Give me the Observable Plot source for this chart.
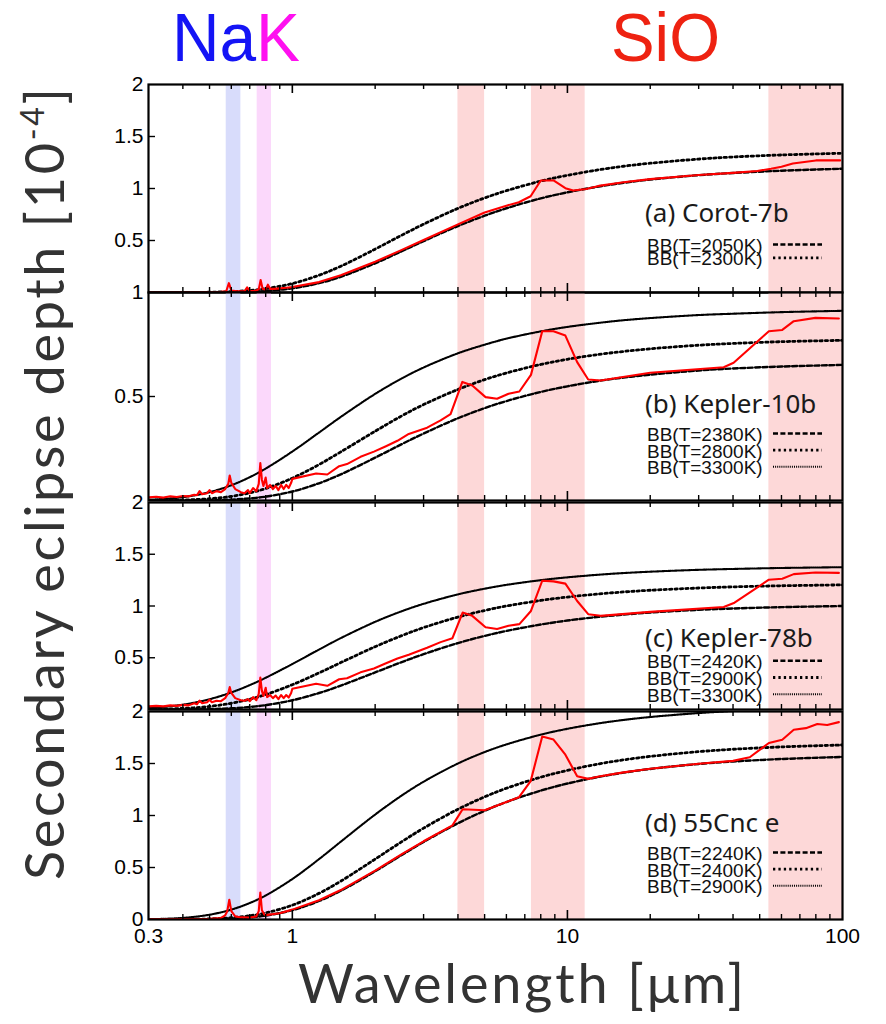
<!DOCTYPE html>
<html><head><meta charset="utf-8">
<script src="https://cdn.jsdelivr.net/npm/d3@7"></script>
<script src="https://cdn.jsdelivr.net/npm/@observablehq/plot@0.6"></script>
<style>
body{margin:0;background:#fff;}
#root{position:relative;width:886px;height:1024px;overflow:hidden;background:#fff;}
</style></head><body><div id="root"></div>
<script>
// ---------- data ----------
const wave = [0.3,0.4,0.5,0.6,0.7,0.8,1,1.25,1.5,2,2.5,3,4,5,6,8,10,13,16,20,30,40,60,100];

// (a) Corot-7b
const a_bb2050 = [0,0,0.0006,0.0024,0.0066,0.0142,0.040,0.0898,0.151,0.281,0.397,0.494,0.639,0.738,0.81,0.905,0.963,1.019,1.055,1.086,1.128,1.149,1.171,1.190];
const a_bb2300 = [0,0.0005,0.0027,0.0086,0.0198,0.0367,0.086,0.166,0.253,0.417,0.551,0.657,0.809,0.909,0.979,1.071,1.127,1.180,1.214,1.243,1.283,1.303,1.3225,1.339];
const a_redW = [0.3,0.4,0.5,0.55,0.575,0.588,0.6,0.63,0.67,0.685,0.7,0.73,0.755,0.767,0.78,0.8,0.815,0.83,0.86,0.9,0.95,1.0,1.25,1.5,2,2.5,3,4,5,6,6.66,7.35,8.0,8.9,9.83,10.5,11.7,13,16,20,30,40,49,55,60,66,80,98];
const a_redV = [0.002,0.003,0.005,0.006,0.012,0.09,0.02,0.012,0.012,0.05,0.015,0.015,0.03,0.12,0.035,0.03,0.075,0.035,0.035,0.04,0.045,0.052,0.1,0.165,0.295,0.41,0.505,0.655,0.77,0.835,0.868,0.926,1.077,1.077,1.003,0.98,0.995,1.025,1.06,1.09,1.13,1.15,1.168,1.19,1.21,1.24,1.27,1.27];

// (b) Kepler-10b
const b_bb2380 = [0,0.0002,0.0014,0.0044,0.0101,0.0186,0.0432,0.0829,0.1257,0.206,0.271,0.322,0.3955,0.444,0.478,0.522,0.549,0.575,0.591,0.605,0.625,0.6346,0.644,0.652];
const b_bb2800 = [0.0003,0.0023,0.0084,0.020,0.0368,0.0578,0.1074,0.1727,0.2337,0.333,0.407,0.461,0.534,0.581,0.613,0.654,0.679,0.7023,0.7166,0.7295,0.7465,0.755,0.7635,0.770];
const b_bb3300 = [0.0035,0.016,0.0399,0.0732,0.112,0.1535,0.2355,0.3267,0.4018,0.5125,0.587,0.6394,0.7077,0.749,0.778,0.813,0.8345,0.854,0.8667,0.877,0.8916,0.898,0.9056,0.912];
const b_redW = [0.3,0.32,0.34,0.36,0.38,0.4,0.42,0.44,0.45,0.46,0.47,0.49,0.5,0.51,0.53,0.55,0.57,0.585,0.592,0.6,0.62,0.65,0.67,0.69,0.7,0.72,0.74,0.755,0.765,0.775,0.785,0.8,0.81,0.83,0.85,0.87,0.89,0.91,0.93,0.95,0.97,0.99,1.0,1.22,1.34,1.48,1.58,1.77,1.98,2.18,2.41,2.65,3.09,3.46,3.76,4.15,4.51,5.04,5.55,6.11,6.69,7.37,8.1,8.9,9.83,10.85,11.9,13.2,20,37,40.2,54,60.4,66.5,79.7,97];
const b_redV = [0.015,0.018,0.014,0.02,0.017,0.022,0.02,0.028,0.025,0.045,0.03,0.035,0.05,0.035,0.045,0.04,0.055,0.08,0.12,0.085,0.055,0.04,0.035,0.05,0.035,0.06,0.045,0.08,0.18,0.1,0.07,0.11,0.06,0.075,0.055,0.07,0.05,0.075,0.055,0.075,0.06,0.085,0.104,0.13,0.125,0.165,0.175,0.21,0.235,0.26,0.287,0.32,0.35,0.385,0.415,0.57,0.553,0.497,0.489,0.513,0.524,0.604,0.814,0.814,0.793,0.665,0.582,0.577,0.614,0.641,0.662,0.814,0.82,0.862,0.878,0.875];

// (c) Kepler-78b
const c_bb2420 = [0.0001,0.0009,0.0042,0.0117,0.0244,0.0421,0.0891,0.1593,0.231,0.3583,0.458,0.5347,0.6416,0.711,0.759,0.821,0.8595,0.895,0.917,0.937,0.963,0.976,0.989,1.000];
const c_bb2900 = [0.0017,0.0103,0.0298,0.0604,0.0996,0.1442,0.2395,0.3537,0.4533,0.6068,0.7141,0.7914,0.8933,0.9567,0.9997,1.0537,1.0866,1.117,1.1357,1.152,1.1737,1.1846,1.1955,1.204];
const c_bb3300 = [0.0129,0.0462,0.0992,0.1646,0.2354,0.3066,0.4394,0.5791,0.6897,0.847,0.9497,1.0208,1.112,1.167,1.204,1.2496,1.277,1.3025,1.3183,1.3315,1.3496,1.358,1.3674,1.375];
const c_redW = [0.3,0.32,0.34,0.36,0.38,0.4,0.42,0.44,0.45,0.46,0.47,0.49,0.5,0.51,0.53,0.55,0.57,0.585,0.592,0.6,0.62,0.65,0.67,0.69,0.7,0.72,0.74,0.755,0.765,0.775,0.785,0.8,0.81,0.83,0.85,0.87,0.89,0.91,0.93,0.95,0.97,0.99,1.0,1.22,1.34,1.48,1.58,1.77,1.98,2.18,2.41,2.65,3.09,3.46,3.82,4.16,4.51,5.04,5.55,6.11,6.69,7.37,8.1,8.9,9.83,10.85,11.9,13.2,20,37,40.5,54,60.4,66.5,79.7,97];
const c_redV = [0.03,0.035,0.03,0.04,0.035,0.045,0.04,0.06,0.05,0.085,0.06,0.07,0.095,0.07,0.085,0.08,0.11,0.16,0.216,0.16,0.11,0.09,0.085,0.1,0.08,0.12,0.09,0.15,0.308,0.18,0.13,0.21,0.12,0.14,0.11,0.135,0.1,0.14,0.11,0.14,0.115,0.16,0.2,0.248,0.229,0.292,0.302,0.359,0.397,0.444,0.492,0.53,0.597,0.651,0.689,0.937,0.905,0.794,0.778,0.81,0.825,0.952,1.244,1.238,1.216,1.048,0.921,0.905,0.943,0.99,1.032,1.254,1.263,1.308,1.324,1.32];

// (d) 55Cnc e
const d_bb2240 = [0,0.0004,0.0025,0.0083,0.0196,0.0371,0.0897,0.1779,0.2759,0.4639,0.6208,0.7458,0.9256,1.0455,1.1295,1.2394,1.3073,1.3716,1.412,1.4477,1.4954,1.519,1.543,1.563];
const d_bb2400 = [0.0001,0.0012,0.0058,0.0169,0.0361,0.0634,0.1377,0.2512,0.3688,0.5804,0.7484,0.8783,1.0603,1.1792,1.2616,1.3686,1.434,1.496,1.5348,1.5684,1.6138,1.6367,1.6595,1.678];
const d_bb2900 = [0.0025,0.0154,0.0458,0.0947,0.1582,0.2311,0.389,0.5804,0.7484,1.0092,1.1926,1.325,1.5001,1.6098,1.6833,1.777,1.8335,1.886,1.9187,1.947,1.985,2.004,2.0226,2.038];
const d_redW = [0.3,0.4,0.5,0.55,0.57,0.58,0.59,0.6,0.62,0.65,0.7,0.74,0.755,0.765,0.775,0.79,0.8,0.9,1.0,1.25,1.5,2,2.5,3,3.82,4.16,5.0,6.0,6.66,7.35,8.1,8.9,9.83,10.85,11.9,13,16,20,30,40,46,54,60.4,66.5,73.6,81,88,97];
const d_redV = [0.003,0.004,0.006,0.015,0.04,0.08,0.19,0.08,0.03,0.02,0.018,0.03,0.08,0.26,0.09,0.05,0.042,0.06,0.095,0.185,0.283,0.47,0.628,0.752,0.905,1.06,1.05,1.13,1.175,1.33,1.76,1.73,1.585,1.378,1.352,1.375,1.415,1.45,1.497,1.525,1.56,1.697,1.729,1.825,1.84,1.88,1.87,1.898];

// absorption bands [µm]
const bandNames = ["Na","K","SiO","SiO","SiO"];
const bandLo = [0.575,0.745,4.0,7.4,54];
const bandHi = [0.65,0.84,5.0,11.6,100];

// ticks and labels
const xMinor = [0.4,0.5,0.6,0.7,0.8,0.9,2,3,4,5,6,7,8,9,20,30,40,50,60,70,80,90];
const xMajor = [1,10];
const xLabels = [0.3,1,10,100];
const panelNames = ["(a) Corot-7b","(b) Kepler-10b","(c) Kepler-78b","(d) 55Cnc e"];
const temps = [["2050K","2300K"],["2380K","2800K","3300K"],["2420K","2900K","3300K"],["2240K","2400K","2900K"]];
const yLabelsA = [2,1.5,1,0.5];
const yLabelsB = [1,0.5];
const yLabelsC = [2,1.5,1,0.5];
const yLabelsD = [2,1.5,1,0.5,0];

// ---------- layout / style ----------
const W = 886, ML = 148, MR = 44, MT = 12;
const FW = W - ML - MR;
const bandColor = {Na: "#d8dcfb", K: "#fbd8fb", SiO: "#fdd8d8"};
const lineStyle = [
  {dash: "5,2.4", w: 2.4},
  {dash: "2.3,3.1", w: 2.8},
  {dash: "1,1.1", w: 2.1}
];
const panels = [
  {bb: [a_bb2050, a_bb2300], rw: a_redW, rv: a_redV, dom: [0,2], ticks: [0.5,1,1.5], labels: yLabelsA, top: 84, h: 208,
   nameY: 222, legY: [252, 265.3]},
  {bb: [b_bb2380, b_bb2800, b_bb3300], rw: b_redW, rv: b_redV, dom: [0,1], ticks: [0.5], labels: yLabelsB, top: 292, h: 208,
   nameY: 413, legY: [441, 457.7, 474.3]},
  {bb: [c_bb2420, c_bb2900, c_bb3300], rw: c_redW, rv: c_redV, dom: [0,2], ticks: [0.5,1,1.5], labels: yLabelsC, top: 502, h: 207,
   nameY: 647, legY: [668.3, 685, 701.7]},
  {bb: [d_bb2240, d_bb2400, d_bb2900], rw: d_redW, rv: d_redV, dom: [0,2], ticks: [0.5,1,1.5], labels: yLabelsD, top: 711, h: 208,
   nameY: 832, legY: [860, 876.7, 893.3]}
];

const root = document.getElementById("root");
const idx = bandNames.map((_, i) => i);

panels.forEach((p, k) => {
  const last = k === panels.length - 1;
  const MB = last ? 52 : 12;
  const marks = [];
  for (const name of ["Na","K","SiO"]) {
    marks.push(Plot.rect(idx.filter(i => bandNames[i] === name),
      {x1: i => bandLo[i], x2: i => bandHi[i], fill: bandColor[name]}));
  }
  p.bb.forEach((vals, j) => {
    marks.push(Plot.line(wave, {x: wave, y: vals, stroke: "#000", strokeWidth: lineStyle[j].w,
      strokeDasharray: lineStyle[j].dash, curve: "catmull-rom", clip: true}));
  });
  marks.push(Plot.line(p.rw, {x: p.rw, y: p.rv, stroke: "#ff0000", strokeWidth: 2.1, clip: true}));
  marks.push(Plot.tickX(xMinor, {insetBottom: p.h - 5, stroke: "#000", strokeWidth: 1.4}));
  marks.push(Plot.tickX(xMinor, {insetTop: p.h - 5, stroke: "#000", strokeWidth: 1.4}));
  marks.push(Plot.tickX(xMajor, {insetBottom: p.h - 9, stroke: "#000", strokeWidth: 1.6}));
  marks.push(Plot.tickX(xMajor, {insetTop: p.h - 9, stroke: "#000", strokeWidth: 1.6}));
  marks.push(Plot.tickY(p.ticks, {insetRight: FW - 7, stroke: "#000", strokeWidth: 1.4}));
  marks.push(Plot.axisY(p.labels, {tickSize: 0, tickPadding: 5, fontSize: 21, label: null,
    tickFormat: d => String(d), fill: "#000"}));
  if (last) marks.push(Plot.axisX(xLabels, {tickSize: 0, tickPadding: 9, fontSize: 21, label: null,
    tickFormat: d => String(d), fill: "#000"}));
  marks.push(Plot.frame({stroke: "#000", strokeWidth: 2.2}));

  const svg = Plot.plot({
    width: W, height: p.h + MT + MB,
    marginLeft: ML, marginRight: MR, marginTop: MT, marginBottom: MB,
    x: last ? {type: "log", domain: [0.3, 100]} : {type: "log", domain: [0.3, 100], axis: null},
    y: {domain: p.dom},
    style: {background: "transparent", overflow: "visible",
      fontFamily: "'Liberation Sans', Arial, sans-serif", fontSize: "21px", color: "#000"},
    marks
  });
  svg.style.position = "absolute";
  svg.style.left = "0px";
  svg.style.top = (p.top - MT) + "px";
  svg.style.maxWidth = "none";
  root.appendChild(svg);
});

// ---------- overlay: titles, legends, axis titles ----------
const ov = d3.create("svg").attr("width", W).attr("height", 1024)
  .style("position", "absolute").style("left", "0px").style("top", "0px")
  .style("overflow", "visible").style("pointer-events", "none");

ov.append("text").attr("x", 172).attr("y", 61)
  .attr("font-family", "'Liberation Sans', Arial, sans-serif").attr("font-size", 68)
  .attr("textLength", 128).attr("lengthAdjust", "spacingAndGlyphs")
  .call(t => {
    t.append("tspan").attr("fill", "#1414f5").text("Na");
    t.append("tspan").attr("fill", "#ff10f0").text("K");
  });
ov.append("text").attr("x", 611).attr("y", 61)
  .attr("font-family", "'Liberation Sans', Arial, sans-serif").attr("font-size", 68)
  .attr("textLength", 109).attr("lengthAdjust", "spacingAndGlyphs")
  .attr("fill", "#ee2211").text("SiO");

panels.forEach((p, k) => {
  ov.append("text").attr("x", 645).attr("y", p.nameY)
    .attr("font-family", "'Noto Sans', 'Open Sans', sans-serif").attr("font-size", 26)
    .attr("fill", "#1a1a1a").text(panelNames[k]);
  temps[k].forEach((t, j) => {
    const y = p.legY[j];
    ov.append("text").attr("x", 647).attr("y", y)
      .attr("font-family", "'Liberation Sans', Arial, sans-serif").attr("font-size", 19)
      .attr("fill", "#111").text(`BB(T=${t})`);
    ov.append("line").attr("x1", 773).attr("x2", 822).attr("y1", y - 7.5).attr("y2", y - 7.5)
      .attr("stroke", "#000").attr("stroke-width", lineStyle[j].w)
      .attr("stroke-dasharray", lineStyle[j].dash);
  });
});

const yt = ov.append("text").attr("transform", "translate(64,484) rotate(-90)")
  .attr("text-anchor", "middle").attr("font-family", "Lato, 'Open Sans', sans-serif")
  .attr("font-weight", 400).attr("font-size", 54).attr("fill", "#333")
  .attr("textLength", 792).attr("lengthAdjust", "spacing");
yt.append("tspan").text("Secondary eclipse depth [10");
yt.append("tspan").attr("font-size", 32).attr("dy", -20).text("-4");
yt.append("tspan").attr("dy", 20).text("]");

ov.append("text").attr("x", 521).attr("y", 1003).attr("text-anchor", "middle")
  .attr("font-family", "Lato, 'Open Sans', sans-serif").attr("font-weight", 400)
  .attr("font-size", 54).attr("fill", "#333")
  .attr("textLength", 446).attr("lengthAdjust", "spacing")
  .text("Wavelength [μm]");

root.appendChild(ov.node());
</script></body></html>
